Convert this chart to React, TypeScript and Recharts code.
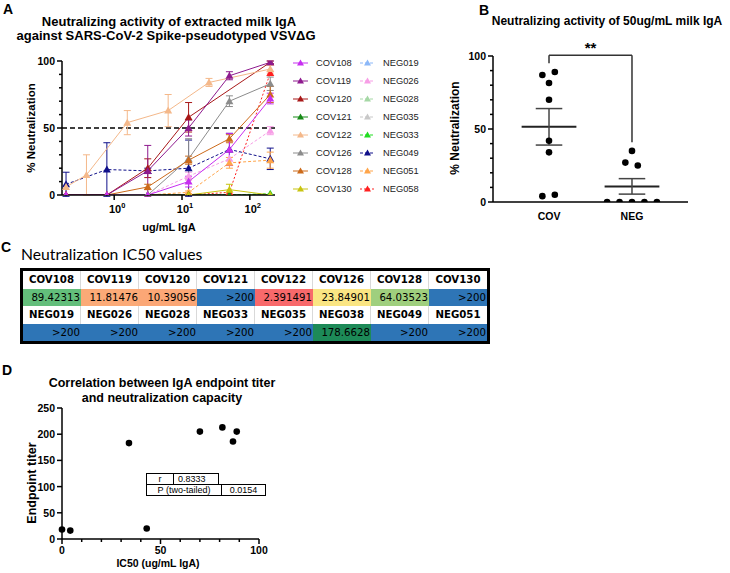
import React from 'react'
import {
  LineChart,
  Line,
  XAxis,
  YAxis,
  ReferenceLine,
  ErrorBar,
  ScatterChart,
  Scatter,
} from 'recharts'

// ---------- Panel A: dose response (ug/mL IgA vs % neutralization) ----------
const concentrations = [0.195, 0.39, 0.78, 1.56, 3.125, 6.25, 12.5, 25, 50, 200]

const cov108 = [0, null, 0, null, 0, null, 10, null, 34, 72]
const cov108Err = [0, null, 0, null, 0, null, 4, null, 12, 4]
const cov119 = [0, null, 0, null, 18, null, 50, null, 89, 99]
const cov119Err = [0, null, 0, null, 19, null, 6, null, 3, 1]
const cov120 = [0, null, 0, null, 20, null, 58, null, null, 99]
const cov120Err = [0, null, 0, null, 7, null, 11, null, null, 1]
const cov121 = [null, null, null, null, 0, null, 0, null, 0, 0]
const cov122 = [6, 15, null, 54, null, 63, null, 84, null, 94]
const cov122Err = [0, 15, null, 9, null, 12, null, 3, null, 3]
const cov126 = [null, null, null, null, 0, null, 27, null, 70, 83]
const cov126Err = [null, null, null, null, 0, null, 15, null, 4, 5]
const cov128 = [0, null, 0, null, 6, null, 26, null, 42, 75]
const cov128Err = [0, null, 0, null, 2, null, 3, null, 3, 6]
const cov130 = [null, null, null, null, null, null, 0, null, 4, 0]
const cov130Err = [null, null, null, null, null, null, 0, null, 4, 0]

const neg019 = [null, null, null, null, 0, null, 0, null, 0, 0]
const neg026 = [null, null, null, null, 0, null, 14, null, 27, 48]
const neg026Err = [null, null, null, null, 0, null, 3, null, 5, 3]
const neg028 = [null, null, null, null, 0, null, 0, null, 0, 0]
const neg035 = [null, null, null, null, 0, null, 0, null, 0, 0]
const neg033 = [null, null, null, null, 0, null, 0, null, 0, 1]
const neg049 = [8, null, 19, null, 18, null, 20, null, 34, 27]
const neg049Err = [9, null, 20, null, 2, null, 21, null, 12, 8]
const neg051 = [null, null, null, null, 0, null, 2, null, 24, 26]
const neg051Err = [null, null, null, null, 0, null, 1, null, 4, 6]
const neg058 = [null, null, null, null, 0, null, 0, null, 2, 91]

type SeriesA = { key: string; values: (number | null)[]; errors?: (number | null)[]; color: string; dash?: string }

const covSeries: SeriesA[] = [
  { key: 'COV108', values: cov108, errors: cov108Err, color: '#c72ef0' },
  { key: 'COV119', values: cov119, errors: cov119Err, color: '#8e1a8e' },
  { key: 'COV120', values: cov120, errors: cov120Err, color: '#a81818' },
  { key: 'COV121', values: cov121, color: '#168a16' },
  { key: 'COV122', values: cov122, errors: cov122Err, color: '#f4b88a' },
  { key: 'COV126', values: cov126, errors: cov126Err, color: '#8c8c8c' },
  { key: 'COV128', values: cov128, errors: cov128Err, color: '#cc6a1a' },
  { key: 'COV130', values: cov130, errors: cov130Err, color: '#c8c410' },
]

const negSeries: SeriesA[] = [
  { key: 'NEG019', values: neg019, color: '#8cb8f8', dash: '3 2' },
  { key: 'NEG026', values: neg026, errors: neg026Err, color: '#f79ee6', dash: '3 2' },
  { key: 'NEG028', values: neg028, color: '#a6d8a6', dash: '3 2' },
  { key: 'NEG035', values: neg035, color: '#c8c8c8', dash: '3 2' },
  { key: 'NEG033', values: neg033, color: '#22dd22', dash: '3 2' },
  { key: 'NEG049', values: neg049, errors: neg049Err, color: '#10108a', dash: '3 2' },
  { key: 'NEG051', values: neg051, errors: neg051Err, color: '#ffa54a', dash: '3 2' },
  { key: 'NEG058', values: neg058, color: '#ff2020', dash: '2 2' },
]

const chartAData = concentrations.map((c, i) => {
  const row: Record<string, number | null> = { conc: c }
  ;[...covSeries, ...negSeries].forEach((s) => {
    row[s.key] = s.values[i]
    if (s.errors) row[s.key + '_err'] = s.errors[i]
  })
  return row
})

// ---------- Panel B: neutralization at 50 ug/mL ----------
const groupNames = ['COV', 'NEG']
const covX = [0.92, 1.07, 1.0, 1.0, 1.0, 1.0, 0.92, 1.07]
const covY = [87, 89, 81.5, 70, 42, 34, 4, 5]
const negX = [2.0, 1.92, 2.07, 1.7, 1.85, 2.0, 2.15, 2.3]
const negY = [35, 27, 25, 0, 0, 0, 0, 0]
const groupMean = [51.5, 10.7]
const groupSem = [12.5, 5.3]
const bracketLeftY = 95
const bracketTopY = 100.5
const bracketRightY = 41

// ---------- Panel C: IC50 table ----------
const tableTop = ['COV108', 'COV119', 'COV120', 'COV121', 'COV122', 'COV126', 'COV128', 'COV130']
const tableTopVals = ['89.42313', '11.81476', '10.39056', '>200', '2.391491', '23.84901', '64.03523', '>200']
const tableBottom = ['NEG019', 'NEG026', 'NEG028', 'NEG033', 'NEG035', 'NEG038', 'NEG049', 'NEG051']
const tableBottomVals = ['>200', '>200', '>200', '>200', '>200', '178.6628', '>200', '>200']

const cellColor = (v: string) => {
  const map: Record<string, string> = {
    '89.42313': '#63be7b',
    '11.81476': '#fbaa77',
    '10.39056': '#fba776',
    '2.391491': '#f8696b',
    '23.84901': '#fae583',
    '64.03523': '#9fcf7e',
    '178.6628': '#1d8a58',
  }
  return map[v] || '#2e75b6'
}

// ---------- Panel D: correlation ----------
const corrX = [0, 4.2, 34, 43, 70, 81.4, 86.8, 88.7]
const corrY = [18, 16, 183, 20, 205, 213, 186, 205]
const corrR = '0.8333'
const corrP = '0.0154'

const FONT = '"Liberation Sans", Arial, sans-serif'

const triangleDot = (color: string) => (props: any) => {
  const { cx, cy, value, index } = props
  if (cx == null || cy == null || value == null || Number.isNaN(cy)) return <g key={`d-${index}`} />
  return <path key={`d-${index}`} d={`M${cx},${cy - 4}L${cx + 4},${cy + 3}L${cx - 4},${cy + 3}Z`} fill={color} />
}

const makeYTick = (labelEvery: number) => (props: any) => {
  const { x, y, payload } = props
  const major = payload.value % labelEvery === 0
  const len = major ? 5 : 3
  return (
    <g>
      <line x1={x - len} x2={x} y1={y} y2={y} stroke="#000" strokeWidth={1.5} />
      {major && (
        <text x={x - 7} y={y} textAnchor="end" dominantBaseline="central" fontSize={10.5} fontWeight="bold" fill="#000" fontFamily={FONT}>
          {payload.value}
        </text>
      )}
    </g>
  )
}

const makeXTick = (labelEvery: number) => (props: any) => {
  const { x, y, payload } = props
  const major = payload.value % labelEvery === 0
  const len = major ? 5 : 3
  return (
    <g>
      <line x1={x} x2={x} y1={y} y2={y + len} stroke="#000" strokeWidth={1.5} />
      {major && (
        <text x={x} y={y + 11} textAnchor="middle" dominantBaseline="central" fontSize={10.5} fontWeight="bold" fill="#000" fontFamily={FONT}>
          {payload.value}
        </text>
      )}
    </g>
  )
}

const LogTick = (props: any) => {
  const { x, y, payload } = props
  const exp = Math.round(Math.log10(payload.value))
  return (
    <g>
      <line x1={x} x2={x} y1={y} y2={y + 5} stroke="#000" strokeWidth={1.5} />
      <text x={x + 3} y={y + 18} textAnchor="middle" fontSize={11} fontWeight="bold" fill="#000" fontFamily={FONT}>
        <tspan>10</tspan>
        <tspan dy={-5} fontSize={7.5}>{exp}</tspan>
      </text>
    </g>
  )
}

const GroupTick = (props: any) => {
  const { x, y, payload } = props
  return (
    <text x={x} y={y + 14} textAnchor="middle" dominantBaseline="central" fontSize={10.5} fontWeight="bold" fill="#000" fontFamily={FONT}>
      {groupNames[payload.value - 1]}
    </text>
  )
}

const Txt = ({ x, y, children, size = 12, bold = true, rotate = false, family = FONT, anchor = 'middle' }: any) => (
  <div
    style={{
      position: 'absolute',
      left: x,
      top: y,
      transform: `translate(${anchor === 'start' ? '0' : '-50%'}, -50%)${rotate ? ' rotate(-90deg)' : ''}`,
      whiteSpace: 'nowrap',
      fontSize: size,
      fontWeight: bold ? 700 : 400,
      lineHeight: 1,
      fontFamily: family,
      color: '#000',
    }}
  >
    {children}
  </div>
)

const axisStyle = { stroke: '#000', strokeWidth: 1.5 }

function LegendA() {
  const rows = Math.max(covSeries.length, negSeries.length)
  return (
    <svg width={170} height={150} style={{ position: 'absolute', left: 280, top: 50 }}>
      {Array.from({ length: rows }).map((_, i) => {
        const y = 13 + i * 18
        const cols = [
          { s: covSeries[i], lx: 13, tx: 36 },
          { s: negSeries[i], lx: 80, tx: 103 },
        ]
        return cols.map(({ s, lx, tx }) =>
          s ? (
            <g key={s.key}>
              <line x1={lx} x2={lx + 15} y1={y} y2={y} stroke={s.color} strokeWidth={1} strokeDasharray={s.dash} />
              <path d={`M${lx + 7.5},${y - 3.5}L${lx + 11},${y + 2.5}L${lx + 4},${y + 2.5}Z`} fill={s.color} />
              <text x={tx} y={y} dominantBaseline="central" fontSize={9.3} fill="#222" fontFamily={FONT}>
                {s.key}
              </text>
            </g>
          ) : null
        )
      })}
    </svg>
  )
}

export default function App() {
  const drawOrder = [...negSeries, ...covSeries.slice(1, 4).reverse(), ...covSeries.slice(4), covSeries[0], covSeries[3]]
  const seen = new Set<string>()
  const uniqueOrder = drawOrder.filter((s) => (seen.has(s.key) ? false : (seen.add(s.key), true)))

  const covPts = covX.map((x, i) => ({ x, y: covY[i] }))
  const negPts = negX.map((x, i) => ({ x, y: negY[i] }))
  const corrPts = corrX.map((x, i) => ({ x, y: corrY[i] }))

  const dot = (p: any) => <circle cx={p.cx} cy={p.cy} r={3.3} fill="#000" />

  return (
    <div style={{ position: 'absolute', left: 0, top: 0, width: 730, height: 573, background: '#fff', fontFamily: FONT, overflow: 'hidden' }}>
      {/* Panel A */}
      <Txt x={8} y={9} size={14}>A</Txt>
      <Txt x={169} y={21} size={13}>Neutralizing activity of extracted milk IgA</Txt>
      <Txt x={166} y={35} size={13}>against SARS-CoV-2 Spike-pseudotyped VSVΔG</Txt>
      <Txt x={32} y={128} size={11.5} rotate>% Neutralization</Txt>
      <Txt x={169} y={227} size={11}>ug/mL IgA</Txt>
      <div style={{ position: 'absolute', left: 0, top: 40 }}>
        <LineChart width={290} height={200} data={chartAData} margin={{ top: 21, right: 15, bottom: 15, left: 12 }}>
          <XAxis
            dataKey="conc"
            type="number"
            scale="log"
            domain={[0.17, 235]}
            allowDataOverflow
            ticks={[1, 10, 100]}
            interval={0}
            tick={LogTick}
            tickLine={false}
            tickSize={0}
            tickMargin={0}
            axisLine={axisStyle}
            height={30}
          />
          <YAxis
            type="number"
            domain={[0, 100]}
            allowDataOverflow
            ticks={[0, 10, 20, 30, 40, 50, 60, 70, 80, 90, 100]}
            interval={0}
            tick={makeYTick(50)}
            tickLine={false}
            tickSize={0}
            tickMargin={0}
            axisLine={axisStyle}
            width={50}
          />
          <ReferenceLine y={50} stroke="#000" strokeWidth={1.5} strokeDasharray="5 3" />
          {uniqueOrder.map((s) => (
            <Line
              key={s.key}
              dataKey={s.key}
              stroke={s.color}
              strokeWidth={1}
              strokeDasharray={s.dash}
              connectNulls
              dot={triangleDot(s.color)}
              activeDot={false}
              isAnimationActive={false}
            >
              {s.errors && <ErrorBar dataKey={s.key + '_err'} width={3.5} stroke={s.color} strokeWidth={1} direction="y" />}
            </Line>
          ))}
        </LineChart>
      </div>
      <LegendA />

      {/* Panel B */}
      <Txt x={484} y={10} size={14}>B</Txt>
      <Txt x={607} y={21} size={12}>Neutralizing activity of 50ug/mL milk IgA</Txt>
      <Txt x={455} y={128} size={12} rotate>% Neutralization</Txt>
      <div style={{ position: 'absolute', left: 440, top: 30 }}>
        <ScatterChart width={280} height={200} margin={{ top: 26, right: 32, bottom: 3, left: 13 }}>
          <XAxis
            dataKey="x"
            type="number"
            domain={[0.325, 2.675]}
            ticks={[1, 2]}
            interval={0}
            tick={GroupTick}
            tickLine={false}
            tickSize={0}
            tickMargin={0}
            axisLine={axisStyle}
            height={25}
          />
          <YAxis
            dataKey="y"
            type="number"
            domain={[0, 100]}
            allowDataOverflow
            ticks={[0, 10, 20, 30, 40, 50, 60, 70, 80, 90, 100]}
            interval={0}
            tick={makeYTick(50)}
            tickLine={false}
            tickSize={0}
            tickMargin={0}
            axisLine={axisStyle}
            width={40}
          />
          {groupMean.map((m, i) => {
            const g = i + 1
            const s = groupSem[i]
            return [
              <ReferenceLine key={`m${i}`} segment={[{ x: g - 0.33, y: m }, { x: g + 0.33, y: m }]} stroke="#222" strokeWidth={2} ifOverflow="visible" />,
              <ReferenceLine key={`v${i}`} segment={[{ x: g, y: m - s }, { x: g, y: m + s }]} stroke="#444" strokeWidth={1.5} ifOverflow="visible" />,
              <ReferenceLine key={`t${i}`} segment={[{ x: g - 0.16, y: m + s }, { x: g + 0.16, y: m + s }]} stroke="#444" strokeWidth={1.5} ifOverflow="visible" />,
              <ReferenceLine key={`b${i}`} segment={[{ x: g - 0.16, y: m - s }, { x: g + 0.16, y: m - s }]} stroke="#444" strokeWidth={1.5} ifOverflow="visible" />,
            ]
          })}
          <ReferenceLine segment={[{ x: 1, y: bracketLeftY }, { x: 1, y: bracketTopY }]} stroke="#333" strokeWidth={1.5} ifOverflow="visible" />
          <ReferenceLine
            segment={[{ x: 1, y: bracketTopY }, { x: 2, y: bracketTopY }]}
            stroke="#333"
            strokeWidth={1.5}
            ifOverflow="visible"
            label={{ value: '**', position: 'top', offset: 2, fontSize: 15, fontWeight: 'bold', fill: '#000', fontFamily: FONT }}
          />
          <ReferenceLine segment={[{ x: 2, y: bracketTopY }, { x: 2, y: bracketRightY }]} stroke="#333" strokeWidth={1.5} ifOverflow="visible" />
          <Scatter data={covPts} shape={dot} isAnimationActive={false} />
          <Scatter data={negPts} shape={dot} isAnimationActive={false} />
        </ScatterChart>
      </div>

      {/* Panel C */}
      <Txt x={6} y={247} size={14}>C</Txt>
      <Txt x={21} y={255} size={15.7} bold={false} anchor="start" family='Lato, "Open Sans", sans-serif'>
        Neutralization IC50 values
      </Txt>
      <div
        style={{
          position: 'absolute',
          left: 20,
          top: 268,
          width: 464,
          height: 70,
          border: '3px solid #000',
          display: 'grid',
          gridTemplateColumns: 'repeat(8, 1fr)',
          gridTemplateRows: 'repeat(4, 1fr)',
          fontFamily: '"DejaVu Sans", sans-serif',
          fontSize: 10.2,
          background: '#fff',
        }}
      >
        {[
          { names: tableTop, vals: tableTopVals },
          { names: tableBottom, vals: tableBottomVals },
        ].map((blk, r) => [
          ...blk.names.map((n, i) => (
            <div
              key={`h${r}${i}`}
              style={{
                display: 'flex',
                alignItems: 'center',
                justifyContent: 'center',
                fontWeight: 700,
                borderRight: i < 7 ? '1px solid #d9d9d9' : 'none',
              }}
            >
              {n}
            </div>
          )),
          ...blk.vals.map((v, i) => (
            <div
              key={`v${r}${i}`}
              style={{
                display: 'flex',
                alignItems: 'center',
                justifyContent: 'flex-end',
                paddingRight: 1,
                background: cellColor(v),
                color: '#000',
              }}
            >
              {v}
            </div>
          )),
        ])}
      </div>

      {/* Panel D */}
      <Txt x={7} y={370} size={14}>D</Txt>
      <Txt x={162} y={383} size={12.5}>Correlation between IgA endpoint titer</Txt>
      <Txt x={162} y={398} size={12.5}>and neutralization capacity</Txt>
      <Txt x={32} y={483} size={12.5} rotate>Endpoint titer</Txt>
      <Txt x={158} y={563} size={10.5}>IC50 (ug/mL IgA)</Txt>
      <div style={{ position: 'absolute', left: 0, top: 400 }}>
        <ScatterChart width={290} height={173} margin={{ top: 8, right: 31, bottom: 14, left: 12 }}>
          <XAxis
            dataKey="x"
            type="number"
            domain={[0, 100]}
            ticks={[0, 10, 20, 30, 40, 50, 60, 70, 80, 90, 100]}
            interval={0}
            tick={makeXTick(50)}
            tickLine={false}
            tickSize={0}
            tickMargin={0}
            axisLine={axisStyle}
            height={20}
          />
          <YAxis
            dataKey="y"
            type="number"
            domain={[0, 250]}
            ticks={[0, 50, 100, 150, 200, 250]}
            interval={0}
            tick={makeYTick(50)}
            tickLine={false}
            tickSize={0}
            tickMargin={0}
            axisLine={axisStyle}
            width={50}
          />
          <Scatter data={corrPts} shape={dot} isAnimationActive={false} />
        </ScatterChart>
      </div>
      <div style={{ position: 'absolute', left: 146, top: 473, fontSize: 9, fontFamily: FONT, color: '#000' }}>
        <div style={{ display: 'flex', height: 11 }}>
          <div style={{ width: 26, border: '1px solid #000', borderBottom: 'none', display: 'flex', alignItems: 'center', justifyContent: 'center' }}>r</div>
          <div style={{ width: 40, border: '1px solid #000', borderLeft: 'none', borderBottom: 'none', display: 'flex', alignItems: 'center', paddingLeft: 4 }}>{corrR}</div>
        </div>
        <div style={{ display: 'flex', height: 12 }}>
          <div style={{ width: 74, border: '1px solid #000', display: 'flex', alignItems: 'center', justifyContent: 'center' }}>P (two-tailed)</div>
          <div style={{ width: 43, border: '1px solid #000', borderLeft: 'none', display: 'flex', alignItems: 'center', justifyContent: 'center' }}>{corrP}</div>
        </div>
      </div>
    </div>
  )
}
